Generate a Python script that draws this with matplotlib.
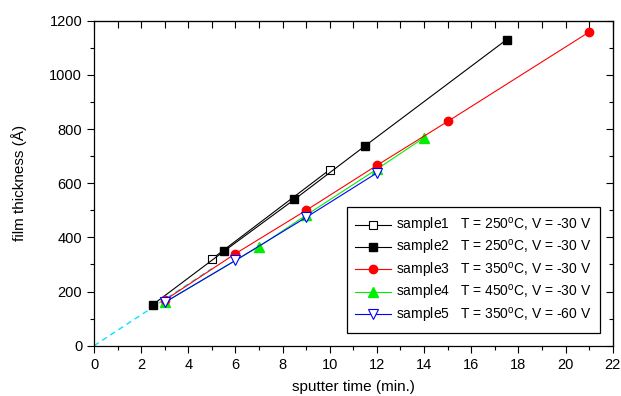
import matplotlib
matplotlib.use("Agg")
import matplotlib.pyplot as plt

plt.rcParams['font.family'] = ['Liberation Sans', 'DejaVu Sans']
plt.rcParams['mathtext.fontset'] = 'custom'
plt.rcParams['mathtext.rm'] = 'Liberation Sans'

# data
s1_x = [5, 10]
s1_y = [320, 650]
s2_x = [2.5, 5.5, 8.5, 11.5, 17.5]
s2_y = [152, 348, 540, 738, 1130]
s3_x = [3, 6, 9, 12, 15, 21]
s3_y = [168, 340, 500, 666, 828, 1158]
s4_x = [3, 7, 9, 12, 14]
s4_y = [160, 366, 482, 652, 768]
s5_x = [3, 6, 9, 12]
s5_y = [160, 315, 474, 638]
fit_x = [0, 5]
fit_y = [0, 285]

labels = [
    'sample1   T = 250$^\\mathrm{o}$C, V = -30 V',
    'sample2   T = 250$^\\mathrm{o}$C, V = -30 V',
    'sample3   T = 350$^\\mathrm{o}$C, V = -30 V',
    'sample4   T = 450$^\\mathrm{o}$C, V = -30 V',
    'sample5   T = 350$^\\mathrm{o}$C, V = -60 V',
]

fig = plt.figure(figsize=(6.21, 3.96), dpi=100)
ax = fig.add_axes([0.1514, 0.127, 0.8352, 0.8207])

ax.plot(fit_x, fit_y, color='#00e5ff', lw=1.0, ls=(0, (4, 3)), zorder=1)
ax.plot(s1_x, s1_y, color='black', lw=0.8, marker='s', ms=5.5, mfc='white', mec='black', mew=0.8, label=labels[0], zorder=3)
ax.plot(s2_x, s2_y, color='black', lw=0.8, marker='s', ms=5.5, mfc='black', mec='black', label=labels[1], zorder=3)
ax.plot(s3_x, s3_y, color='red', lw=0.8, marker='o', ms=6, mfc='red', mec='red', label=labels[2], zorder=3)
ax.plot(s4_x, s4_y, color='#00ee00', lw=0.8, marker='^', ms=7, mfc='#00ee00', mec='#00ee00', label=labels[3], zorder=2)
ax.plot(s5_x, s5_y, color='blue', lw=0.8, marker='v', ms=7, mfc='white', mec='blue', mew=0.8, label=labels[4], zorder=4)

ax.set_xlim(0, 22)
ax.set_ylim(0, 1200)
ax.set_xticks(range(0, 23, 2))
ax.set_xticks(range(0, 23, 1), minor=True)
ax.set_yticks(range(0, 1201, 200))
ax.set_yticks(range(0, 1201, 100), minor=True)
ax.tick_params(which='major', direction='out', length=5, width=0.8, labelsize=10.5, colors='black')
ax.tick_params(which='minor', direction='out', length=3, width=0.8)

top = ax.secondary_xaxis('top')
top.set_xticks(range(0, 23, 2))
top.set_xticks(range(0, 23, 1), minor=True)
top.tick_params(which='both', direction='in', length=5, width=0.8, labeltop=False)
right = ax.secondary_yaxis('right')
right.set_yticks(range(0, 1201, 200))
right.set_yticks(range(0, 1201, 100), minor=True)
right.tick_params(which='major', direction='in', length=5, width=0.8, labelright=False)
right.tick_params(which='minor', direction='in', length=3, width=0.8, labelright=False)

for sp in ax.spines.values():
    sp.set_linewidth(0.9)

ax.set_xlabel('sputter time (min.)', fontsize=11, labelpad=6)
ax.set_ylabel('film thickness (Å)', fontsize=11, labelpad=16)

leg = ax.legend(loc='lower right', bbox_to_anchor=(0.975, 0.039), fontsize=10,
                fancybox=False, framealpha=1, edgecolor='black', handlelength=2.6,
                labelspacing=0.25, borderpad=0.6, borderaxespad=0, handletextpad=0.35)
leg.get_frame().set_linewidth(0.9)

fig.savefig('out.png', dpi=100)
